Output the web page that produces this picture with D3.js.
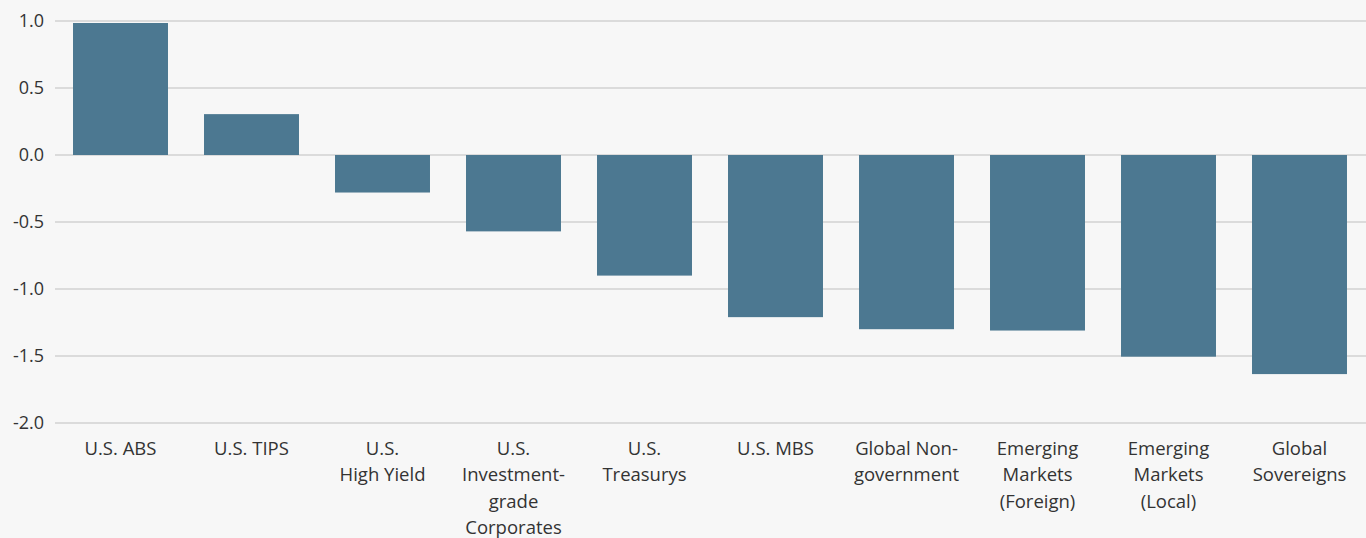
<!DOCTYPE html>
<html>
<head>
<meta charset="utf-8">
<title>Bar chart</title>
<script src="https://cdn.jsdelivr.net/npm/d3@7"></script>
<style>
	body {
		margin: 0;
		background: #f7f7f7;
		font-family: "Open Sans", "Noto Sans", sans-serif;
	}
	.grid line {
		stroke: #d2d2d2;
		stroke-width: 1.5;
	}
	.ylab text, .xlab text {
		fill: #333;
	}
	.ylab text { font-size: 18px; }
	.xlab text { font-size: 18.5px; }
</style>
</head>
<body>
<div id="chart"></div>
<script>
var categories = [
	["U.S. ABS"],
	["U.S. TIPS"],
	["U.S.", "High Yield"],
	["U.S.", "Investment-", "grade", "Corporates"],
	["U.S.", "Treasurys"],
	["U.S. MBS"],
	["Global Non-", "government"],
	["Emerging", "Markets", "(Foreign)"],
	["Emerging", "Markets", "(Local)"],
	["Global", "Sovereigns"]
];
var values = [0.985, 0.305, -0.28, -0.57, -0.9, -1.21, -1.3, -1.31, -1.505, -1.635];
var yTicks = [1.0, 0.5, 0.0, -0.5, -1.0, -1.5, -2.0];

var width = 1366, height = 538;

var svg = d3.select('#chart').append('svg')
	.attr('width', width)
	.attr('height', height);

var keys = categories.map(function(c) { return c.join(' '); });

var x = d3.scaleBand()
	.domain(keys)
	.range([55, 1365])
	.paddingInner(0.275)
	.paddingOuter(0.1375);

var y = d3.scaleLinear()
	.domain([-2, 1])
	.range([423, 21]);

// plain hyphen for negatives, like the original
var fmt = function(d) { return d3.format('.1f')(d).replace('\u2212', '-'); };

// gridlines
svg.append('g').attr('class', 'grid')
	.selectAll('line')
	.data(yTicks)
	.enter().append('line')
	.attr('x1', 55)
	.attr('x2', width)
	.attr('y1', function(d) { return y(d); })
	.attr('y2', function(d) { return y(d); });

// y labels
svg.append('g').attr('class', 'ylab')
	.selectAll('text')
	.data(yTicks)
	.enter().append('text')
	.attr('x', 44)
	.attr('y', function(d) { return y(d); })
	.attr('dy', '0.35em')
	.attr('text-anchor', 'end')
	.text(fmt);

// bars
svg.append('g')
	.selectAll('rect')
	.data(values)
	.enter().append('rect')
	.attr('x', function(d, i) { return x(keys[i]); })
	.attr('width', x.bandwidth())
	.attr('y', function(d) { return y(Math.max(0, d)); })
	.attr('height', function(d) { return Math.abs(y(d) - y(0)); })
	.attr('fill', '#4c7891');

// category labels
var xl = svg.append('g').attr('class', 'xlab')
	.selectAll('text')
	.data(categories)
	.enter().append('text')
	.attr('text-anchor', 'middle')
	.attr('x', function(d, i) { return x(keys[i]) + x.bandwidth() / 2; });

xl.selectAll('tspan')
	.data(function(d) { return d; })
	.enter().append('tspan')
	.attr('x', function() { return d3.select(this.parentNode).attr('x'); })
	.attr('y', function(d, i) { return 455 + i * 26.3; })
	.text(function(d) { return d; });
</script>
</body>
</html>
